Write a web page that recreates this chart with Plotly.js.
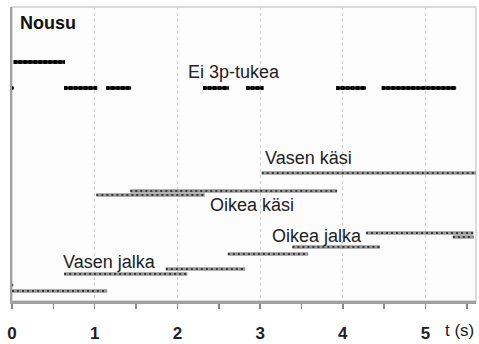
<!DOCTYPE html>
<html>
<head>
<meta charset="utf-8">
<script src="https://cdn.plot.ly/plotly-3.0.1.min.js"></script>
<style>html,body{margin:0;padding:0;background:#fff}#chart{width:479px;height:344px}</style>
</head>
<body>
<div id="chart"></div>
<script>
// "Ei 3p-tukea" (no three-point support) segments: start, end (s), row level
var eiStart = [0.02, 0.63, 1.14, 2.31, 2.83, 3.92, 4.47];
var eiEnd   = [0.64, 1.03, 1.44, 2.62, 3.04, 4.28, 5.37];
var eiLevel = [239, 213, 213, 213, 213, 213, 213];
var eiPointT = [0];
var eiPointLevel = [213];

// Limb phases (Vasen/Oikea käsi, Oikea/Vasen jalka)
var limbStart = [3.02, 1.43, 1.02, 4.28, 5.33, 3.39, 2.61, 1.86, 0.63, 0.00];
var limbEnd   = [5.62, 3.93, 2.33, 5.58, 5.58, 4.45, 3.58, 2.82, 2.12, 1.15];
var limbLevel = [128, 110, 106, 68, 64, 54, 47, 32, 27, 10];
var limbPointT = [0];
var limbPointLevel = [16];

// Labels
var labelText  = ["Ei 3p-tukea", "Vasen käsi", "Oikea käsi", "Oikea jalka", "Vasen jalka"];
var labelT     = [2.68, 3.58, 2.90, 3.69, 1.18];
var labelLevel = [229, 143, 96, 65, 39];

var xTicks = [0, 1, 2, 3, 4, 5];
var xTickText = ["0", "1", "2", "3", "4", "5"];

function segs(s, e, l) {
  var x = [], y = [];
  for (var i = 0; i < s.length; i++) {
    x.push(s[i], e[i], null);
    y.push(l[i], l[i], null);
  }
  return {x: x, y: y};
}
var ei = segs(eiStart, eiEnd, eiLevel);
var limb = segs(limbStart, limbEnd, limbLevel);

var traces = [
  {x: limb.x, y: limb.y, mode: 'lines', line: {color: '#9a9a9a', width: 3.5}, hoverinfo: 'skip', connectgaps: false},
  {x: limb.x, y: limb.y, mode: 'lines', line: {color: '#3a3a3a', width: 1.8, dash: '2px,3px'}, hoverinfo: 'skip', connectgaps: false},
  {x: limbPointT, y: limbPointLevel, mode: 'markers', marker: {color: '#555', size: 3}, hoverinfo: 'skip'},
  {x: ei.x, y: ei.y, mode: 'lines', line: {color: '#1a1a1a', width: 3.5}, hoverinfo: 'skip', connectgaps: false},
  {x: ei.x, y: ei.y, mode: 'lines', line: {color: '#000', width: 4, dash: '3px,2px'}, hoverinfo: 'skip', connectgaps: false},
  {x: eiPointT, y: eiPointLevel, mode: 'markers', marker: {color: '#111', size: 4}, hoverinfo: 'skip'}
];

var annotations = labelText.map(function (t, i) {
  return {x: labelT[i], y: labelLevel[i], xref: 'x', yref: 'y', text: t, showarrow: false,
          xanchor: 'center', yanchor: 'middle',
          font: {family: 'Liberation Sans, Arial, sans-serif', size: 18, color: '#222'}};
});
annotations.push({x: 0.07, y: 278, xref: 'x', yref: 'y', text: 'Nousu', showarrow: false,
  xanchor: 'left', yanchor: 'middle',
  font: {family: 'Liberation Sans, Arial, sans-serif', size: 18, color: '#111', weight: 'bold'}});
annotations.push({x: 1, y: 0, xref: 'paper', yref: 'paper', yshift: -29, xanchor: 'right', yanchor: 'middle',
  text: 't (s)', showarrow: false,
  font: {family: 'Liberation Sans, Arial, sans-serif', size: 17, color: '#222'}});

var layout = {
  width: 479, height: 344,
  margin: {l: 12, r: 3, t: 7, b: 43},
  paper_bgcolor: '#ffffff',
  plot_bgcolor: '#fcfcfc',
  showlegend: false,
  xaxis: {
    range: [0, 5.61], tickvals: xTicks, ticktext: xTickText,
    ticks: 'outside', ticklen: 5, tickcolor: '#888', tickwidth: 1.5,
    showline: true, linecolor: '#a0a0a0', linewidth: 2.5,
    showgrid: true, gridcolor: '#cfcfcf', griddash: 'dot', gridwidth: 1,
    zeroline: false,
    minor: {dtick: 0.5, tick0: 0, ticks: 'outside', ticklen: 5, tickcolor: '#888', tickwidth: 1.5, showgrid: false},
    ticklabelstandoff: 10,
    tickfont: {family: 'Liberation Sans, Arial, sans-serif', size: 17, color: '#222', weight: 'bold'}
  },
  yaxis: {
    range: [0, 294], showticklabels: false, ticks: '', showgrid: false, zeroline: false,
    showline: true, linecolor: '#a0a0a0', linewidth: 2.5
  },
  shapes: [
    {type: 'rect', xref: 'paper', yref: 'paper', x0: 0, x1: 1, y0: 0, y1: 1,
     line: {color: '#d0d0d0', width: 1.5}, layer: 'below'}
  ],
  annotations: annotations
};

Plotly.newPlot('chart', traces, layout, {displayModeBar: false, staticPlot: true});
</script>
</body>
</html>
